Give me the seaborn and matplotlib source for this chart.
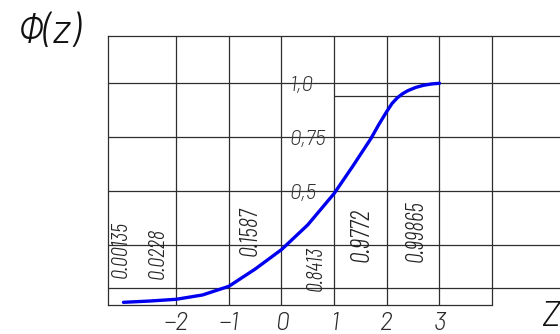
import matplotlib
matplotlib.use("Agg")
import matplotlib.pyplot as plt
from matplotlib import font_manager
import seaborn as sns

# Cumulative curve Φ(z), read point by point
z_values = [-3.0, -2.5, -2.0, -1.5, -1.0, -0.5, 0.0, 0.5, 1.0, 1.35, 1.7,
            1.85, 2.0, 2.1, 2.2, 2.3, 2.4, 2.55, 2.7, 2.85, 3.0]
phi_values = [-0.014, -0.008, 0.0, 0.02, 0.06, 0.14, 0.23, 0.345, 0.49, 0.615,
              0.745, 0.81, 0.87, 0.907, 0.933, 0.952, 0.966, 0.981, 0.991,
              0.997, 1.0]

# Axis annotations
tick_values = [-2, -1, 0, 1, 2, 3]
tick_labels = ["\u22122", "\u22121", "0", "1", "2", "3"]
level_values = [1.0, 0.75, 0.5]
level_labels = ["1,0", "0,75", "0,5"]
prob_labels = ["0.00135", "0.0228", "0.1587", "0.8413", "0.9772", "0.99865"]

# Ruled lines of the sheet
row_lines = [0.054, 0.25, 0.5, 0.75, 1.0]
col_lines = [-2, -1, 0, 1, 2, 3, 4]
step_level = 0.943

sns.set_theme(style="white")
available = {f.name for f in font_manager.fontManager.ttflist}
narrow = [f for f in ["Barlow Condensed", "Archivo Narrow", "Roboto Condensed",
                      "Liberation Sans Narrow", "DejaVu Sans Condensed"]
          if f in available]
regular = [f for f in ["Barlow", "Barlow Semi Condensed"] if f in available]
plt.rcParams["font.family"] = narrow + ["DejaVu Sans"]
plt.rcParams["font.style"] = "italic"
plt.rcParams["font.weight"] = 300
wide_family = regular + narrow + ["DejaVu Sans"]

W, H = 560, 334
fig = plt.figure(figsize=(W / 100, H / 100), dpi=100)
left_px, right_px, top_px, bottom_px = 108, 560, 35.7, 305.3
ax = fig.add_axes([left_px / W, 1 - bottom_px / H,
                   (right_px - left_px) / W, (bottom_px - top_px) / H])
ax.set_facecolor("white")

x_min, x_max = -3.294, 5.288
y_min, y_max = -0.0278, 1.2204
ax.set_xlim(x_min, x_max)
ax.set_ylim(y_min, y_max)

grid_color = "#2e2e2e"
grid_lw = 0.9
for z in col_lines:
    ax.axvline(z, color=grid_color, lw=grid_lw, zorder=1)
for v in row_lines:
    ax.axhline(v, color=grid_color, lw=grid_lw, zorder=1)
ax.hlines(step_level, 1, 3, color=grid_color, lw=grid_lw, zorder=1)

for side in ["left", "top", "bottom"]:
    ax.spines[side].set_visible(True)
    ax.spines[side].set_color(grid_color)
    ax.spines[side].set_linewidth(grid_lw)
ax.spines["right"].set_visible(False)
ax.spines["bottom"].set_bounds(x_min, 4)

sns.lineplot(x=z_values, y=phi_values, color="#0000ee", lw=2.4, ax=ax,
             zorder=3, solid_capstyle="round", sort=False)

ax.set_xticks(tick_values)
ax.set_xticklabels(tick_labels, fontsize=18, style="italic", weight=300,
                   family=wide_family, color="#2a2a2a")
ax.tick_params(axis="x", length=0, pad=5)
ax.set_yticks([])
ax.set_xlabel("")
ax.set_ylabel("")

for v, s in zip(level_values, level_labels):
    ax.text(0.16, v - 0.008, s, ha="left", va="center", fontsize=15,
            style="italic", weight=300, family=wide_family,
            color="#333333", zorder=2)

# rotated probability labels: centre and drawn length in pixels
prob_pos = [(-3.034, 0.228), (-2.345, 0.214), (-0.598, 0.316),
            (0.655, 0.143), (1.528, 0.298), (2.554, 0.316)]
prob_len = [57, 51, 49, 45, 54, 62]
prob_texts = []
for (x, y), s in zip(prob_pos, prob_labels):
    t = ax.text(x, y, s, rotation=90, ha="center", va="center", fontsize=14,
                style="italic", weight=300, color="#222222", zorder=2)
    prob_texts.append(t)

fig.text(49 / W, 1 - 32.5 / H, "\u03a6(z)", ha="center", va="center",
         fontsize=30, style="italic", weight=300, family=wide_family,
         color="#111111")
fig.text(559 / W, 1.0 / H, "Z", ha="right", va="bottom", fontsize=25,
         style="italic", weight=300, family=wide_family, color="#111111")

# fit the rotated labels to their ruled length
fig.canvas.draw()
renderer = fig.canvas.get_renderer()
for t, target in zip(prob_texts, prob_len):
    ext = t.get_window_extent(renderer)
    if ext.height > 0:
        t.set_fontsize(t.get_fontsize() * target / ext.height)

fig.savefig("out.png", dpi=100)
